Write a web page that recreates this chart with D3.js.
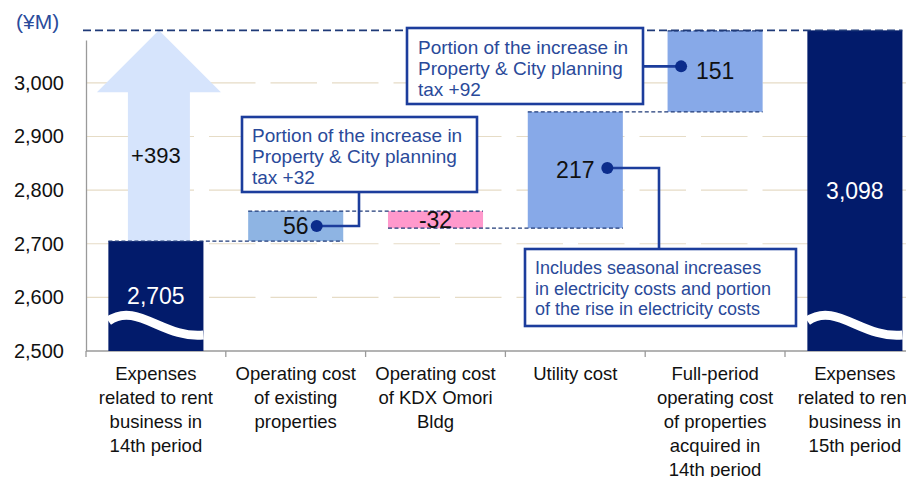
<!DOCTYPE html>
<html>
<head>
<meta charset="utf-8">
<script src="https://cdn.jsdelivr.net/npm/d3@7"></script>
<style>
  body { margin: 0; background: #fff; }
  svg { display: block; font-family: "Liberation Sans", Arial, sans-serif; }
</style>
</head>
<body>
<svg id="chart" width="906" height="477"></svg>
<script>
// chart data
const catKeys = ["p14", "existing", "omori", "utility", "acquired", "p15"];
const catLabels = [
  ["Expenses", "related to rent", "business in", "14th period"],
  ["Operating cost", "of existing", "properties"],
  ["Operating cost", "of KDX Omori", "Bldg"],
  ["Utility cost"],
  ["Full-period", "operating cost", "of properties", "acquired in", "14th period"],
  ["Expenses", "related to rent", "business in", "15th period"]
];
const values = [2705, 56, -32, 217, 151, 3098];
const kinds = ["total", "delta", "delta", "delta", "delta", "total"];
const valueText = ["2,705", "56", "-32", "217", "151", "3,098"];
const increase = 393;
const yTicks = [2500, 2600, 2700, 2800, 2900, 3000];
const gridTicks = [2600, 2700, 2800, 2900, 3000];
const yDomain = [2500, 3080];

const colors = ["#021b6b", "#8eb4e3", "#ff99cc", "#87a9e8", "#87a9e8", "#021b6b"];
const navy = "#1f3a78";
const noteBlue = "#1c3d9c";

const svg = d3.select("#chart");
const W = 906, H = 477;
const m = { left: 86, bottom: 351, top: 40 };
const plotRight = 86 + 6 * 139.8;

const x = d3.scaleBand()
  .domain(catKeys)
  .range([m.left, plotRight])
  .paddingInner(0.32)
  .paddingOuter(0.16);
const step = x.step();

const y = d3.scaleLinear()
  .domain(yDomain)
  .range([m.bottom, m.top]);

// waterfall start/end
let run = 0;
const bars = values.map(function (v, i) {
  let b;
  if (kinds[i] === "total") { b = { y0: yDomain[0], y1: v }; run = v; }
  else { b = { y0: run, y1: run + v }; run += v; }
  b.key = catKeys[i]; b.i = i; b.lo = Math.min(b.y0, b.y1); b.hi = Math.max(b.y0, b.y1);
  return b;
});

// gridlines
svg.append("g")
  .selectAll("line")
  .data(gridTicks)
  .enter().append("line")
  .attr("x1", m.left).attr("x2", W)
  .attr("y1", d => y(d)).attr("y2", d => y(d))
  .attr("stroke", "#e6dcc6")
  .attr("stroke-width", 1.2)
  .attr("stroke-dasharray", "46.5,15");

// y axis
const yAxis = d3.axisLeft(y)
  .tickValues(yTicks)
  .tickFormat(d3.format(","))
  .tickSize(0)
  .tickPadding(22);
const gy = svg.append("g")
  .attr("transform", "translate(" + m.left + ",0)")
  .call(yAxis);
gy.select(".domain").attr("stroke", "#9a9a9a").attr("stroke-width", 1.3);
gy.selectAll("text").attr("font-size", 20).attr("fill", "#111")
  .attr("font-family", "Liberation Sans, Arial, sans-serif");

// unit
svg.append("text")
  .attr("x", 16).attr("y", 22).attr("dy", "0.35em")
  .attr("font-size", 21).attr("fill", "#2a4b9b")
  .text("(¥M)");

// bottom axis
svg.append("line")
  .attr("x1", m.left).attr("x2", W)
  .attr("y1", y(yDomain[0])).attr("y2", y(yDomain[0]))
  .attr("stroke", "#9a9a9a").attr("stroke-width", 1.3);
svg.append("g")
  .selectAll("line")
  .data(catKeys)
  .enter().append("line")
  .attr("x1", d => x(d) - step * 0.16).attr("x2", d => x(d) - step * 0.16)
  .attr("y1", y(yDomain[0])).attr("y2", y(yDomain[0]) + 6)
  .attr("stroke", "#9a9a9a").attr("stroke-width", 1.3);

// category labels
const cat = svg.append("g").selectAll("text")
  .data(catKeys)
  .enter().append("text")
  .attr("text-anchor", "middle")
  .attr("font-size", 18.5)
  .attr("fill", "#111");
cat.each(function (d, i) {
  const t = d3.select(this);
  catLabels[i].forEach(function (line, j) {
    t.append("tspan")
      .attr("x", x(d) + x.bandwidth() / 2)
      .attr("y", 380 + j * 24)
      .text(line);
  });
});

// increase arrow
const b0 = bars[0];
const ac = x(b0.key) + x.bandwidth() / 2 + 3;
const aBase = y(b0.y1), aTip = y(bars[5].y1);
const headY = aTip + 62;
svg.append("path")
  .attr("d", [
    "M", ac - 31, aBase, "L", ac - 31, headY, "L", ac - 62, headY,
    "L", ac, aTip, "L", ac + 62, headY, "L", ac + 31, headY,
    "L", ac + 31, aBase, "Z"].join(" "))
  .attr("fill", "#d6e4fc");
svg.append("text")
  .attr("x", ac - 3).attr("y", (aBase + aTip) / 2 + 20).attr("dy", "0.35em")
  .attr("text-anchor", "middle").attr("font-size", 22).attr("fill", "#111")
  .text("+" + increase);

// connectors between steps
const conn = [];
for (let i = 0; i < bars.length - 2; i++) {
  conn.push({ v: bars[i].y1, xa: x(bars[i].key), xb: x(bars[i + 1].key) + x.bandwidth() });
}
conn.push({ v: bars[4].y1, xa: x(bars[4].key), xb: x(bars[4].key) + x.bandwidth() });

// bars
svg.append("g")
  .selectAll("rect")
  .data(bars)
  .enter().append("rect")
  .attr("x", d => x(d.key))
  .attr("width", x.bandwidth())
  .attr("y", d => y(d.hi))
  .attr("height", d => y(d.lo) - y(d.hi))
  .attr("fill", d => colors[d.i]);

// break marks on the totals
svg.append("g")
  .selectAll("path")
  .data(bars.filter(d => kinds[d.i] === "total"))
  .enter().append("path")
  .attr("d", function (d) {
    const x0 = x(d.key), x1 = x0 + x.bandwidth(), b = y(yDomain[0]);
    return "M" + x0 + "," + (b - 30) + " C" + (x0 + 28) + "," + (b - 50) + " " +
      (x0 + 55) + "," + (b - 12) + " " + x1 + "," + (b - 16);
  })
  .attr("fill", "none").attr("stroke", "#fff").attr("stroke-width", 9);

// dashed connectors
svg.append("g")
  .selectAll("line")
  .data(conn)
  .enter().append("line")
  .attr("x1", d => d.xa).attr("x2", d => d.xb)
  .attr("y1", d => y(d.v)).attr("y2", d => y(d.v))
  .attr("stroke", navy).attr("stroke-width", 1.3)
  .attr("stroke-dasharray", "4,2.5");
svg.append("line")
  .attr("x1", 83).attr("x2", x(bars[5].key) + x.bandwidth())
  .attr("y1", y(bars[5].y1)).attr("y2", y(bars[5].y1))
  .attr("stroke", navy).attr("stroke-width", 1.8)
  .attr("stroke-dasharray", "8,4");

// value labels
const labelPos = bars.map(d => ({
  cx: x(d.key) + x.bandwidth() / 2,
  cy: (y(d.lo) + y(d.hi)) / 2
}));
svg.append("g")
  .selectAll("text")
  .data(bars)
  .enter().append("text")
  .attr("x", d => labelPos[d.i].cx)
  .attr("y", d => labelPos[d.i].cy)
  .attr("dy", "0.35em")
  .attr("text-anchor", "middle")
  .attr("font-size", 23)
  .attr("fill", d => kinds[d.i] === "total" ? "#fff" : "#111")
  .text(d => valueText[d.i]);

// callouts
function note(bx, by, bw, bh, lines, fs, lh, tx, ty0) {
  svg.append("rect")
    .attr("x", bx).attr("y", by).attr("width", bw).attr("height", bh)
    .attr("fill", "#fff").attr("stroke", noteBlue).attr("stroke-width", 2.6);
  const t = svg.append("text").attr("font-size", fs).attr("fill", "#2a4a9a");
  lines.forEach(function (l, j) {
    t.append("tspan").attr("x", tx).attr("y", ty0 + j * lh).attr("dy", "0.35em").text(l);
  });
}
function dot(cx, cy) {
  svg.append("circle").attr("cx", cx).attr("cy", cy).attr("r", 6).attr("fill", "#0b2c8c");
}
function leader(pts) {
  svg.append("path").attr("d", d3.line()(pts))
    .attr("fill", "none").attr("stroke", noteBlue).attr("stroke-width", 2.6);
}

// +32 note on operating cost of existing properties
const p1 = labelPos[1];
leader([[359, 192], [359, p1.cy], [p1.cx + 21, p1.cy]]);
dot(p1.cx + 21, p1.cy);
note(242, 117, 235, 75, ["Portion of the increase in", "Property & City planning", "tax +32"], 19, 21, 252, 135);

// +92 note on acquired properties
const p4 = labelPos[4];
leader([[643, p4.cy - 5], [p4.cx - 34, p4.cy - 5]]);
dot(p4.cx - 34, p4.cy - 5);
note(407, 28, 236, 76, ["Portion of the increase in", "Property & City planning", "tax +92"], 19, 21, 418, 47);

// utility note
const p3 = labelPos[3];
leader([[p3.cx + 32, p3.cy - 2], [659, p3.cy - 2], [659, 249]]);
dot(p3.cx + 32, p3.cy - 2);
note(525, 249, 271, 77, ["Includes seasonal increases", "in electricity costs and portion", "of the rise in electricity costs"], 18, 20.5, 535, 268);
</script>
</body>
</html>
